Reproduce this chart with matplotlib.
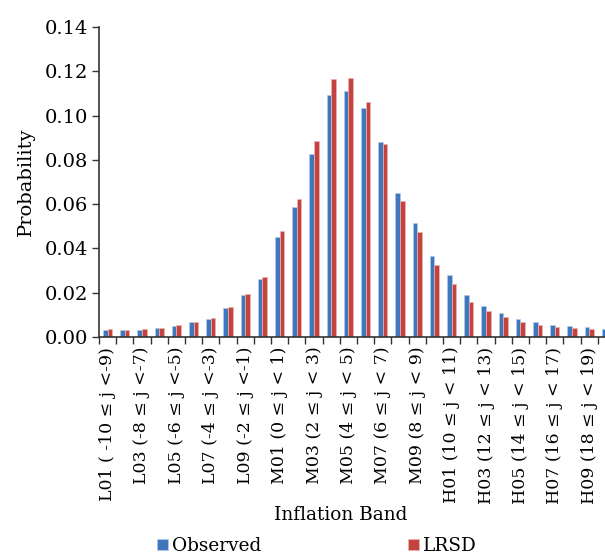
import matplotlib
matplotlib.use("Agg")
import matplotlib.pyplot as plt
import numpy as np

plt.rcParams['font.family'] = ['DejaVu Serif']

# inflation bands: 10 low, 10 mid, 10 high
bands = ([f"L{i:02d} ({-11 + i} \u2264 j <{-10 + i})" for i in range(1, 11)]
         + [f"M{i:02d} ({i - 1} \u2264 j < {i})" for i in range(1, 11)]
         + [f"H{i:02d} ({9 + i} \u2264 j < {10 + i})" for i in range(1, 11)])
bands[0] = "L01 ( -10 \u2264 j <-9)"

observed = [0.0033, 0.0031, 0.0032, 0.0040, 0.0051, 0.0066, 0.0081, 0.0132, 0.0190, 0.0262,
            0.0453, 0.0586, 0.0827, 0.1092, 0.1112, 0.1033, 0.0879, 0.0649, 0.0513, 0.0368,
            0.0279, 0.0189, 0.0139, 0.0107, 0.0081, 0.0068, 0.0054, 0.0048, 0.0045, 0.0036]
lrsd = [0.0035, 0.0031, 0.0034, 0.0040, 0.0052, 0.0068, 0.0084, 0.0135, 0.0193, 0.0272,
        0.0477, 0.0625, 0.0887, 0.1165, 0.1170, 0.1063, 0.0872, 0.0614, 0.0473, 0.0327,
        0.0240, 0.0159, 0.0118, 0.0089, 0.0068, 0.0054, 0.0045, 0.0041, 0.0038, 0.0030]

blue = "#3f77bd"
red = "#c4433f"

fig = plt.figure(figsize=(6.05, 5.55), dpi=100)
# the original picture is cropped at the right, so the axes run past the edge
ax = fig.add_axes([0.1636, 0.3928, 0.853, 0.5586])

x = np.arange(len(bands))
w = 0.27
ax.bar(x - w / 2, observed, w, color=blue, edgecolor="#b4cbe7", linewidth=0.5, label="Observed")
ax.bar(x + w / 2, lrsd, w, color=red, edgecolor="#ebb5b3", linewidth=0.5, label="LRSD")

ax.set_xlim(-0.5, len(bands) - 0.5)
ax.set_ylim(0, 0.14)
yt = np.arange(0, 0.141, 0.02)
ax.set_yticks(yt)
ax.set_yticklabels([f"{v:.2f}" for v in yt], fontsize=14)

ax.set_xticks(x[::2])
ax.set_xticklabels(bands[::2], rotation=90, fontsize=12.5)
ax.set_xticks(np.arange(-0.5, len(bands), 1), minor=True)
ax.tick_params(axis="x", which="major", length=0, pad=7)
ax.tick_params(axis="x", which="minor", length=5, width=1, color="#333333")
ax.tick_params(axis="y", length=5, width=1, color="#333333", pad=3)

for s in ["top", "right"]:
    ax.spines[s].set_visible(False)
ax.spines["left"].set_color("#333333")
ax.spines["bottom"].set_color("#333333")
ax.spines["left"].set_linewidth(1.2)
ax.spines["bottom"].set_linewidth(1.2)

ax.set_ylabel("Probability", fontsize=14, labelpad=7)
fig.text(341 / 605, 1 - 515 / 555, "Inflation Band", fontsize=13.3, ha="center", va="center")

fig.legend(loc="center", bbox_to_anchor=(317 / 605, 1 - 546 / 555), ncol=2,
           frameon=False, fontsize=13.3, handlelength=0.6, handleheight=0.6,
           handletextpad=0.25, columnspacing=7.9, borderaxespad=0)

fig.savefig("out.png", dpi=100)
